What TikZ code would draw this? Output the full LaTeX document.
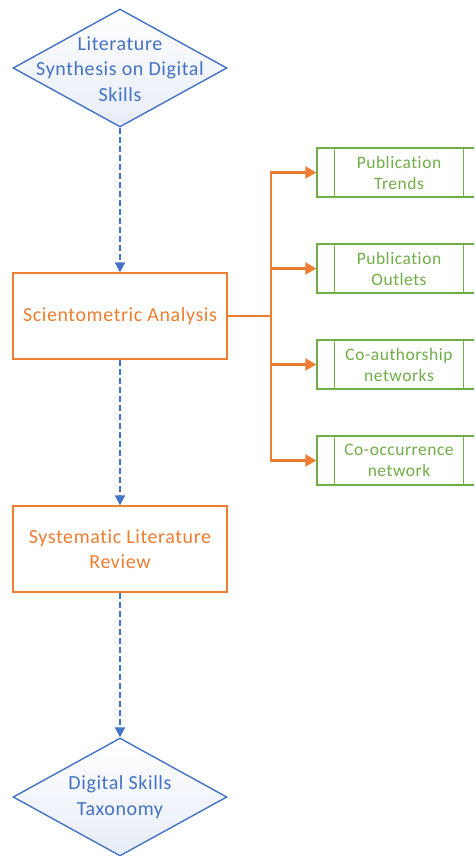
\documentclass[tikz,border=0pt]{standalone}
\usepackage{fontspec}
\setmainfont{Carlito}[LetterSpace=3, Ligatures=NoCommon]
\usetikzlibrary{shapes.geometric,arrows.meta}
\definecolor{flowblue}{HTML}{4472C4}
\definecolor{floworange}{HTML}{ED7D31}
\definecolor{flowgreen}{HTML}{70AD47}
\definecolor{paleblue}{HTML}{E6ECF7}
\tikzset{
  decision/.style={diamond, draw=flowblue, line width=1.4pt, top color=white, bottom color=paleblue,
    minimum width=214pt, minimum height=118pt, aspect=1.81, inner sep=0pt},
  decisiontext/.style={align=center, text=flowblue, font=\fontsize{20}{25.5}\selectfont},
  process/.style={rectangle, draw=floworange, line width=1.4pt, minimum width=214pt, minimum height=86pt,
    align=center, text=floworange, font=\fontsize{20}{25.5}\selectfont},
  subprocess/.style={rectangle, draw=flowgreen, line width=1.4pt, minimum width=164pt, minimum height=49pt,
    align=center, text=flowgreen, font=\fontsize{17.5}{21}\selectfont, inner sep=0pt},
  flowdash/.style={draw=flowblue, line width=2pt, dash pattern=on 6pt off 3pt, -{Triangle[length=10pt,width=10pt]}},
  branch/.style={draw=floworange, line width=2.4pt, -{Triangle[length=11pt,width=12pt]}},
}
\begin{document}
\begin{tikzpicture}[x=1pt,y=-1pt]
\useasboundingbox (0,0) rectangle (474,856);
\begin{scope}
\clip (0,0) rectangle (474,856);

% main column
\node[decision] (start) at (120,68) {};
\node[decisiontext] (starttext) at ([yshift=-1pt]start.center) {Literature\\Synthesis on Digital\\Skills};
\node[process] (sci) at (120,316) {Scientometric Analysis};
\node[process] (slr) at (120,549) {Systematic Literature\\Review};
\node[decision] (goal) at (120,797) {};
\node[decisiontext] (goaltext) at (goal.center) {Digital Skills\\Taxonomy};

% scientometric outputs
\node[subprocess] (trends) at (399,172.5) {Publication\\Trends};
\node[subprocess] (outlets) at (399,268.5) {Publication\\Outlets};
\node[subprocess] (coauth) at (399,364.5) {Co-authorship\\networks};
\node[subprocess] (cooc) at (399,460.5) {Co-occurrence\\network};
\foreach \n in {trends,outlets,coauth,cooc}{
  \draw[draw=flowgreen, line width=1.4pt] ([xshift=18pt]\n.north west) -- ([xshift=18pt]\n.south west);
  \draw[draw=flowgreen, line width=1.4pt] ([xshift=-18pt]\n.north east) -- ([xshift=-18pt]\n.south east);
}

% flow
\draw[flowdash] (start.south) -- (sci.north);
\draw[flowdash] (sci.south) -- (slr.north);
\draw[flowdash] (slr.south) -- (goal.north);

% branching connectors
\coordinate (bus) at (271,316);
\draw[draw=floworange, line width=2.4pt] (sci.east) -- (bus);
\foreach \n in {trends,outlets,coauth,cooc}{
  \draw[branch] (bus) |- (\n.west);
}
\end{scope}
\end{tikzpicture}
\end{document}
